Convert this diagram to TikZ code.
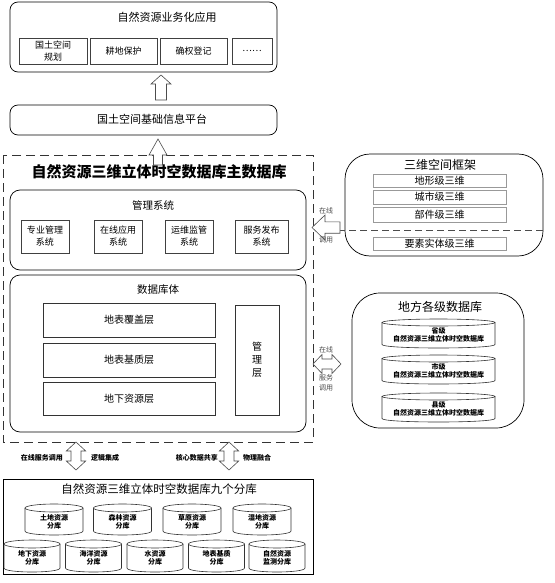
\documentclass[tikz,border=0pt]{standalone}
\usepackage{fontspec}
\setmainfont{Noto Sans CJK SC}
\newcommand{\fs}[2]{\fontsize{#1}{#2}\selectfont}
% box node: name, x1, y1, x2, y2, style, text
\newcommand{\bx}[7]{\node[#6, minimum width={#4-#2}, minimum height={#5-#3}] (#1) at ({(#2+#4)/2},{(#3+#5)/2}) {#7};}
% cylinder: name, cx, top, bottom, half width, ry, text
\newcommand{\dbcyl}[7]{%
  \draw[cylline] (#2-#5,#3+#6) -- (#2-#5,#4-#6) .. controls (#2-#5,#4+#6/3) and (#2+#5,#4+#6/3) .. (#2+#5,#4-#6) -- (#2+#5,#3+#6);
  \draw[cylline] (#2,#3+#6) ellipse [x radius=#5, y radius=#6];
  \node[cyltext] (#1) at (#2,{(#3+#4)/2+#6/2}) {#7};}
% up block arrow: cx, tip, headbase, end, head half, shaft half
\newcommand{\uparr}[6]{\draw[barrow] (#1,#2) -- (#1+#5,#3) -- (#1+#6,#3) -- (#1+#6,#4) -- (#1-#6,#4) -- (#1-#6,#3) -- (#1-#5,#3) -- cycle;}
% vertical double block arrow: cx, y0, y1, L, hw, sw
\newcommand{\vdarr}[6]{\draw[barrow] (#1,#2) -- (#1+#5,#2+#4) -- (#1+#6,#2+#4) -- (#1+#6,#3-#4) -- (#1+#5,#3-#4) -- (#1,#3) -- (#1-#5,#3-#4) -- (#1-#6,#3-#4) -- (#1-#6,#2+#4) -- (#1-#5,#2+#4) -- cycle;}
% horizontal double block arrow: cy, x0, x1, L, hw, sw
\newcommand{\hdarr}[6]{\draw[barrow] (#2,#1) -- (#2+#4,#1-#5) -- (#2+#4,#1-#6) -- (#3-#4,#1-#6) -- (#3-#4,#1-#5) -- (#3,#1) -- (#3-#4,#1+#5) -- (#3-#4,#1+#6) -- (#2+#4,#1+#6) -- (#2+#4,#1+#5) -- cycle;}
\begin{document}
\begin{tikzpicture}[x=1pt,y=-1pt,
  outer/.style={draw=black, line width=0.7pt},
  rbox/.style={outer, rounded corners=8pt},
  sub/.style={draw=black!75, line width=0.8pt, inner sep=0pt, outer sep=0pt, align=center, font=\fs{9}{12}},
  layer/.style={draw=black!80, line width=0.7pt, inner sep=0pt, outer sep=0pt, align=center, font=\fs{10}{13}},
  frame/.style={draw=gray!80, line width=0.6pt, fill=white, inner sep=0pt, outer sep=0pt, font=\fs{10}{11}},
  title/.style={inner sep=0pt, font=\fs{11}{13}},
  cylline/.style={draw=black!80, line width=0.6pt, fill=white},
  cyltext/.style={inner sep=0pt, align=center, font=\fs{7}{8}\bfseries},
  barrow/.style={draw=black!70, line width=0.6pt, fill=white},
  lbl/.style={inner sep=0pt, font=\fs{7}{8}, text=black!70},
  blbl/.style={inner sep=0pt, font=\fs{7}{8}\bfseries}]
\useasboundingbox (0,0) rectangle (554,583);

% ---- top application box
\draw[rbox] (10,2) rectangle (277,72);
\node[title] (tApp) at (167,17) {自然资源业务化应用};
\bx{a1}{19}{38}{87}{64}{sub}{国土空间\\规划}
\bx{a2}{90}{38}{157}{64}{sub}{耕地保护}
\bx{a3}{160}{38}{227}{64}{sub}{确权登记}
\bx{a4}{232}{38}{272}{64}{sub}{……}

% ---- arrow up 1
\uparr{161}{75}{84}{100}{10}{5.5}

% ---- platform
\draw[rbox] (10,105) rectangle (277,135);
\node[title] (tPlat) at (152,119) {国土空间基础信息平台};

% ---- main dashed box
\draw[draw=black!80, line width=0.9pt, dash pattern=on 9pt off 5pt] (3,155) rectangle (313,442);
\node[inner sep=0pt, font=\fs{15}{17}\bfseries] (tMain) at (159,172) {自然资源三维立体时空数据库主数据库};

% ---- arrow up 2
\uparr{158}{139}{155}{165}{9}{4.5}

% ---- management system
\draw[rbox, rounded corners=10pt] (10,190) rectangle (306,270);
\node[title, font=\fs{10.5}{12}] (tMgmt) at (153,205) {管理系统};
\bx{b1}{21}{220}{69}{253}{sub}{专业管理\\系统}
\bx{b2}{94}{220}{142}{253}{sub}{在线应用\\系统}
\bx{b3}{165}{220}{213}{253}{sub}{运维监管\\系统}
\bx{b4}{235}{220}{288}{253}{sub}{服务发布\\系统}

% ---- database body
\draw[rbox, rounded corners=10pt] (10,275) rectangle (306,432);
\node[title, font=\fs{10.5}{12}] (tBody) at (158,290) {数据库体};
\bx{c1}{43}{303}{215}{337}{layer}{地表覆盖层}
\bx{c2}{43}{343}{215}{377}{layer}{地表基质层}
\bx{c3}{43}{382}{215}{415}{layer}{地下资源层}
\bx{c4}{235}{305}{279}{415}{layer}{管\\理\\层}

% ---- 3D spatial framework
\draw[outer, rounded corners=25pt] (345,154) rectangle (543,256);
\node[title, font=\fs{12}{14}] (tFrame) at (440,165) {三维空间框架};
\bx{d1}{373}{174}{506}{187}{frame}{地形级三维}
\bx{d2}{373}{190}{506}{204}{frame}{城市级三维}
\bx{d3}{373}{207}{506}{222}{frame}{部件级三维}
\bx{d4}{373}{237}{506}{250}{frame}{要素实体级三维}
\coordinate (dl0) at (316,230);
\coordinate (dl1) at (546,230);
\draw[draw=black!70, line width=0.6pt, dash pattern=on 7pt off 4pt] (dl0) -- (dl1);

% ---- left arrow (online call)
\draw[barrow] (312,227.5) -- (325,215) -- (325,221.8) -- (340,221.8) -- (340,233.2) -- (325,233.2) -- (325,240) -- cycle;
\node[lbl] (l1) at (326,211) {在线};
\node[lbl] (l2) at (326,240) {调用};

% ---- local databases
\draw[outer, rounded corners=28pt] (352,293) rectangle (524,428);
\node[title, font=\fs{12}{14}] (tLocal) at (440,307) {地方各级数据库};
\dbcyl{e1}{438.5}{319}{348}{56.5}{3.5}{省级\\自然资源三维立体时空数据库}
\dbcyl{e2}{438.5}{355}{384}{56.5}{3.5}{市级\\自然资源三维立体时空数据库}
\dbcyl{e3}{438.5}{393}{422}{56.5}{3.5}{县级\\自然资源三维立体时空数据库}

% ---- double arrow to local
\hdarr{364}{313}{341}{9}{9.5}{5}
\node[lbl] (m1) at (326,350) {在线};
\node[lbl, align=center, font=\fs{7}{10}] (m2) at (326,383) {服务\\调用};

% ---- bottom arrows
\vdarr{76}{442}{470}{9}{9.7}{5}
\vdarr{229}{442}{470}{9}{9.7}{5}
\node[blbl, anchor=east] (n1) at (63,458) {在线服务调用};
\node[blbl, anchor=west] (n2) at (91,458) {逻辑集成};
\node[blbl, anchor=east] (n3) at (218,458) {核心数据共享};
\node[blbl, anchor=west] (n4) at (243,458) {物理融合};

% ---- nine sub-databases
\draw[outer] (3,479) rectangle (313,574);
\node[title, font=\fs{11.5}{13}] (tNine) at (159,489) {自然资源三维立体时空数据库九个分库};
\dbcyl{f1}{54}{504}{535}{29}{4}{土地资源\\分库}
\dbcyl{f2}{122.5}{504}{535}{29}{4}{森林资源\\分库}
\dbcyl{f3}{192}{504}{535}{29}{4}{草原资源\\分库}
\dbcyl{f4}{262}{504}{535}{29}{4}{湿地资源\\分库}
\dbcyl{g1}{32}{540}{572}{28}{4}{地下资源\\分库}
\dbcyl{g2}{93.5}{540}{572}{28}{4}{海洋资源\\分库}
\dbcyl{g3}{155}{540}{572}{28}{4}{水资源\\分库}
\dbcyl{g4}{216.5}{540}{572}{28}{4}{地表基质\\分库}
\dbcyl{g5}{277}{540}{572}{28}{4}{自然资源\\监测分库}
\end{tikzpicture}
\end{document}
